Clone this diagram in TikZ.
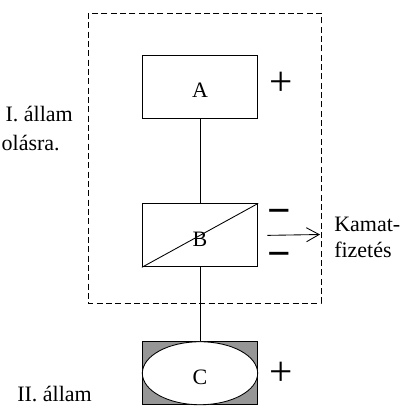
\documentclass[tikz,border=0pt]{standalone}
\usepackage{fontspec}
\setmainfont{Liberation Serif}
\usetikzlibrary{shapes,positioning,arrows.meta,calc}
\definecolor{szurke}{RGB}{150,150,150}

\begin{document}
\begin{tikzpicture}[x=0.75pt,y=-0.75pt,
            font=\fontsize{16.5}{19.5}\selectfont,
            doboz/.style={
                rectangle, draw, line width=0.65pt, inner sep=0pt,
                minimum width=86.5pt, minimum height=47.25pt,
                text height=16.2pt, text depth=0pt},
            jel/.style={font=\fontsize{31}{31}\selectfont,
                inner sep=0pt, text height=15.5pt, text depth=0pt},
            felirat/.style={inner sep=0pt}]

            \useasboundingbox (0,0) rectangle (401,407);
            \draw [dash pattern=on 4.5pt off 2.5pt, line width=0.65pt] (88,13) rectangle (321,303);

            \node [doboz] (A) at (200,86.5) {A};
            \node [doboz,below=63.75pt of A] (B) {B};
            \node [doboz,fill=szurke,below=55.5pt of B] (C0) {};
            \node [ellipse,draw,fill=white,line width=0.65pt,inner sep=0pt,
                minimum width=86.5pt,minimum height=47.25pt,
                text height=16.2pt,text depth=0pt] (C) at (C0) {C};
            \draw [line width=0.65pt] (B.south west) -- (B.north east);

            \draw [line width=0.65pt] (A) -- (B);
            \draw [line width=0.65pt] (B) -- (C0);

            \node [jel] (pA) at (281,85.5) {+};
            \node [jel] (mB1) at (279.5,214) {\bfseries −};
            \node [jel] (mB2) at (279.5,257) {\bfseries −};
            \node [jel] (pC) at (281,375) {+};

            \coordinate [right=7pt of B] (k0);
            \coordinate (k1) at (320,234.5);
            \draw [-{Straight Barb[length=9.5pt,width=10.5pt]},line width=0.65pt] (k0) -- (k1);
            \node [felirat,anchor=west,align=left] (kamat) at (334,237) {Kamat-\\fizetés};

            \node [felirat,anchor=base east] (allam1) at (73,121) {I. állam};
            \node [felirat,anchor=base east] (allam1b) at (60,150) {olásra.};
            \node [felirat,anchor=base west] (allam2) at (17,401.5) {II. állam};

        \end{tikzpicture}
\end{document}
